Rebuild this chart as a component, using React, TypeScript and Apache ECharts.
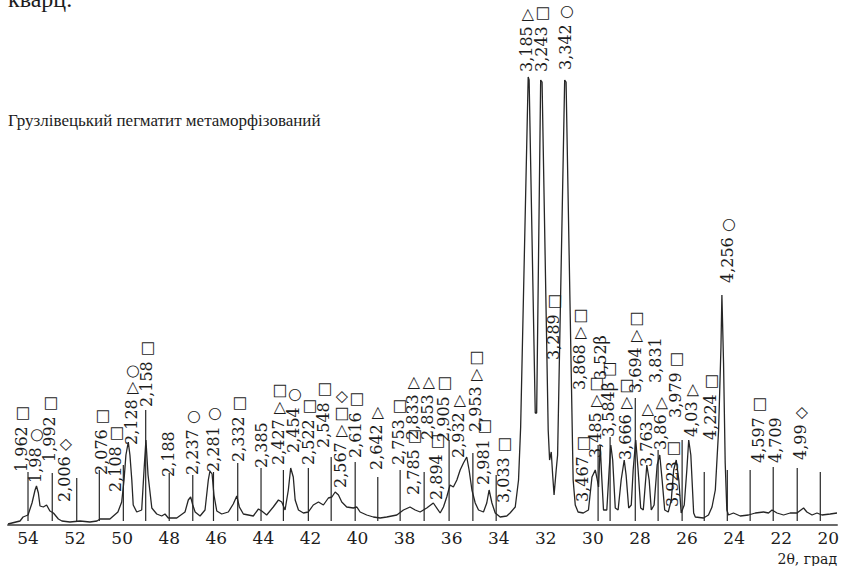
import React, { useEffect, useRef } from "react";
import * as echarts from "echarts";

// Diffraction scan (2θ, degrees; intensity in arbitrary units)
const scanTheta = [
  54.85, 54.34, 54.21, 54.0, 53.83, 53.7, 53.64, 53.56, 53.49, 53.35, 53.21, 53.07, 52.92, 52.71, 52.56, 52.22,
  51.79, 51.37, 51.07, 50.94, 50.52, 50.18, 50.02, 49.92, 49.84, 49.74, 49.67, 49.59, 49.53, 49.38, 49.17, 49.07,
  48.99, 48.9, 48.74, 48.53, 48.32, 48.18, 48.04, 47.68, 47.33, 47.19, 47.09, 47.0, 46.9, 46.69, 46.48, 46.34,
  46.27, 46.18, 46.1, 45.98, 45.77, 45.49, 45.28, 45.13, 45.02, 44.85, 44.43, 44.21, 44.07, 43.86, 43.58, 43.36,
  43.22, 43.08, 42.94, 42.84, 42.73, 42.65, 42.51, 42.3, 42.09, 41.88, 41.66, 41.45, 41.24, 41.09, 40.95, 40.81,
  40.67, 40.46, 40.18, 40.03, 39.89, 39.61, 39.33, 39.04, 38.76, 38.33, 38.05, 37.77, 37.55, 37.34, 37.06, 36.78,
  36.49, 36.35, 36.21, 36.07, 35.93, 35.78, 35.64, 35.5, 35.36, 35.26, 35.14, 35.0, 34.86, 34.65, 34.51, 34.41,
  34.29, 34.15, 33.94, 33.66, 33.52, 33.3, 33.16, 33.07, 32.75, 32.71, 32.45, 32.39, 32.22, 32.16, 31.9, 31.84,
  31.77, 31.71, 31.65, 31.56, 31.5, 31.2, 31.14, 30.84, 30.75, 30.63, 30.41, 30.19, 30.04, 29.9, 29.83, 29.76,
  29.69, 29.63, 29.55, 29.41, 29.31, 29.24, 29.16, 29.05, 28.93, 28.8, 28.67, 28.59, 28.48, 28.37, 28.29, 28.18,
  28.08, 27.97, 27.86, 27.71, 27.61, 27.52, 27.4, 27.27, 27.16, 27.06, 26.95, 26.8, 26.67, 26.57, 26.46, 26.35,
  26.25, 26.12, 26.01, 25.93, 25.84, 25.72, 25.65, 25.3, 25.09, 24.94, 24.8, 24.66, 24.56, 24.52, 24.45, 24.38,
  24.31, 24.24, 24.03, 23.74, 23.39, 23.1, 22.75, 22.54, 22.39, 22.18, 21.9, 21.62, 21.33, 21.05, 20.91, 20.69,
  20.48, 20.27, 19.92, 19.63,
];
const scanIntensity = [
  1, 4, 8, 10, 22, 35, 39, 32, 19, 18, 20, 14, 12, 6, 4, 3,
  4, 3, 4, 6, 6, 13, 23, 45, 70, 83, 70, 45, 20, 13, 15, 55,
  85, 50, 17, 11, 9, 11, 7, 7, 13, 25, 28, 20, 13, 9, 15, 45,
  54, 51, 30, 14, 11, 13, 21, 29, 18, 11, 9, 16, 14, 10, 18, 25,
  23, 15, 35, 57, 48, 25, 15, 12, 13, 20, 23, 20, 27, 28, 33, 30,
  23, 18, 17, 18, 13, 10, 8, 7, 8, 10, 15, 18, 15, 13, 17, 22,
  12, 18, 28, 40, 38, 45, 55, 62, 68, 55, 35, 22, 15, 13, 22, 35,
  22, 12, 8, 9, 12, 18, 45, 98, 448, 445, 112, 112, 445, 443, 95, 65,
  73, 50, 30, 55, 70, 445, 443, 45, 20, 13, 12, 15, 48, 55, 47, 38,
  80, 50, 15, 15, 55, 80, 65, 17, 15, 45, 65, 50, 17, 20, 55, 85,
  55, 17, 15, 60, 45, 15, 20, 60, 70, 45, 15, 13, 25, 55, 65, 45,
  12, 20, 55, 85, 70, 12, 8, 7, 10, 18, 35, 95, 178, 230, 162, 62,
  15, 10, 12, 9, 10, 12, 13, 12, 15, 12, 10, 12, 12, 17, 13, 10,
  12, 10, 11, 12,
];

// One-degree recorder marks (position, height)
const stickTheta = [
  54.0, 52.97, 51.93, 50.97, 49.95, 49.0, 48.0, 47.0, 46.12, 45.09, 44.1, 43.15, 42.09, 41.12, 40.1, 39.14,
  38.19, 37.17, 36.11, 35.1, 34.11, 29.78, 29.27, 28.2, 27.23, 26.21, 25.27, 24.29, 23.32, 22.34, 21.32, 20.34,
];
const stickTop = [
  53, 52, 47, 55, 60, 115, 52, 50, 53, 62, 57, 55, 57, 68, 63, 48,
  55, 53, 85, 72, 50, 80, 88, 127, 75, 85, 53, 55, 55, 58, 57, 53,
];

// Peak annotations: d-spacing, position, foot of the label, phase marks (▷ shows as △ once turned)
const peakText = [
  "1,962", "1,98", "1,992", "2,006", "2,076", "2,108", "2,128", "2,158", "2,188", "2,237", "2,281", "2,332", "2,385",
  "2,427", "2,454", "2,522", "2,548", "2,567", "2,616", "2,642", "2,753", "2,785", "2,833", "2,853", "2,894", "2,905",
  "2,932", "2,953", "2,981", "3,033", "3,185", "3,243", "3,289", "3,342", "3,868", "3,467", "3,485", "3,52β", "3,584β",
  "3,666", "3,694", "3,763", "3,831", "3,86", "3,923", "3,979", "4,03", "4,224", "4,256", "4,597", "4,709", "4,99",
];
const peakTheta = [
  54.27, 53.7, 53.07, 52.43, 50.87, 50.3, 49.59, 48.96, 48.04, 47.0, 46.12, 45.06, 44.07,
  43.36, 42.73, 42.09, 41.45, 40.74, 40.1, 39.18, 38.26, 37.63, 37.68, 37.04, 36.63, 36.35,
  35.71, 35.0, 34.65, 33.8, 32.81, 32.17, 31.69, 31.18, 30.59, 30.46, 29.9, 29.69, 29.34,
  28.63, 28.2, 27.71, 27.35, 27.14, 26.64, 26.5, 25.82, 25.02, 24.28, 22.96, 22.25, 21.19,
];
const peakBase = [
  53, 42, 63, 23, 50, 33, 80, 118, 48, 50, 53, 63, 57,
  60, 72, 60, 77, 37, 67, 55, 60, 30, 85, 85, 25, 83,
  67, 93, 40, 22, 453, 453, 165, 455, 135, 23, 67, 145, 88,
  65, 132, 58, 142, 75, 18, 107, 88, 85, 242, 62, 62, 65,
];
const peakMarks = [
  "□", "○", "□", "◇", "□", "□", "▷○", "□", "", "○", "○", "□", "",
  "▷□", "○", "□", "□", "▷□◇", "□", "▷", "□", "□", "▷", "▷", "□", "□",
  "▷", "▷□", "□", "□", "▷", "□", "□", "○", "▷□", "□", "▷□", "", "□",
  "▷□", "▷□", "▷", "", "▷", "□", "□", "▷", "□", "○", "□", "", "◇",
];

const tickValues = [20, 22, 24, 26, 28, 30, 32, 34, 36, 38, 40, 42, 44, 46, 48, 50, 52, 54];

const SERIF = '"DejaVu Serif", serif';
const LABEL_FONT = '"DejaVu Serif", "DejaVu Sans", serif';
const BOOK = '"Liberation Serif", "DejaVu Serif", serif';
const INK = "#1c1c1c";

export default function App() {
  const ref = useRef<HTMLDivElement>(null);

  useEffect(() => {
    if (!ref.current) return;
    const chart = echarts.init(ref.current, null, { renderer: "svg" });

    const scan = scanTheta.map((t, i) => [t, scanIntensity[i]]);
    const sticks = stickTheta.map((t, i) => [t, stickTop[i]]);
    const labels = peakTheta.map((t, i) => [t, peakBase[i], i]);

    chart.setOption({
      animation: false,
      backgroundColor: "#ffffff",
      grid: { left: 8, right: 4, top: 0, bottom: 41, containLabel: false, outerBoundsMode: "none" },
      xAxis: {
        type: "value",
        inverse: true,
        min: 19.63,
        max: 54.85,
        splitLine: { show: false },
        axisTick: { show: false },
        axisLine: { show: true, onZero: false, lineStyle: { color: "#6a6a6a", width: 2 } },
        axisLabel: {
          customValues: tickValues,
          fontFamily: SERIF,
          fontSize: 17,
          color: INK,
          margin: 4,
          hideOverlap: false,
          formatter: (v: number) => String(v),
        },
      },
      yAxis: { type: "value", min: 0, max: 525, show: false },
      series: [
        {
          type: "line",
          data: scan,
          showSymbol: false,
          symbol: "none",
          lineStyle: { color: "#262626", width: 1.3 },
          silent: true,
          z: 3,
        },
        {
          type: "custom",
          data: sticks,
          silent: true,
          clip: false,
          z: 2,
          renderItem: (_p: any, api: any) => {
            const top = api.coord([api.value(0), api.value(1)]);
            const bot = api.coord([api.value(0), 4]);
            return {
              type: "line",
              shape: { x1: top[0], y1: top[1], x2: bot[0], y2: bot[1] },
              style: { stroke: "#262626", lineWidth: 1.2 },
            };
          },
        },
        {
          type: "custom",
          data: labels,
          silent: true,
          clip: false,
          z: 4,
          renderItem: (_p: any, api: any) => {
            const i = api.value(2) as number;
            const p = api.coord([api.value(0), api.value(1)]);
            const marks = peakMarks[i];
            const text = peakText[i] + (marks ? " " + marks.split("").join("\u2009") : "");
            return {
              type: "text",
              x: p[0],
              y: p[1],
              rotation: Math.PI / 2,
              style: {
                text,
                align: "left",
                verticalAlign: "middle",
                fill: INK,
                fontFamily: LABEL_FONT,
                fontSize: 16,
              },
            };
          },
        },
      ],
      graphic: [
        {
          type: "text",
          x: 8,
          y: 11,
          style: { text: "кварц.", fontFamily: BOOK, fontSize: 24, fill: INK, align: "left", verticalAlign: "bottom" },
        },
        {
          type: "text",
          x: 8,
          y: 120,
          style: {
            text: "Грузлівецький пегматит метаморфізований",
            fontFamily: BOOK,
            fontSize: 17,
            fill: INK,
            align: "left",
            verticalAlign: "middle",
          },
        },
        {
          type: "text",
          x: 837,
          y: 559,
          style: { text: "2θ, град", fontFamily: SERIF, fontSize: 14, fill: INK, align: "right", verticalAlign: "middle" },
        },
      ],
    });

    return () => chart.dispose();
  }, []);

  return (
    <div
      ref={ref}
      style={{ position: "absolute", left: 0, top: 0, width: 841, height: 566, background: "#fff" }}
    />
  );
}
